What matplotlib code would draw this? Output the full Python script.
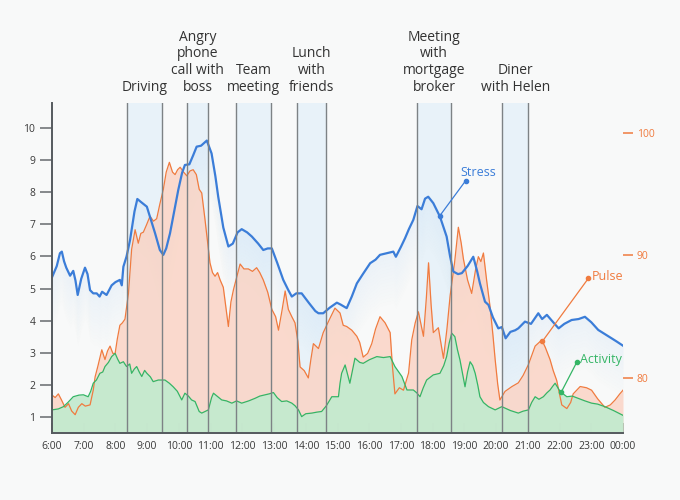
import numpy as np
import matplotlib
matplotlib.use("Agg")
import matplotlib.pyplot as plt

plt.rcParams['font.family'] = ['Open Sans', 'DejaVu Sans']

# ---------------- data ----------------
hour_ticks = list(range(6, 25))
hour_labels = ["6:00", "7:00", "8:00", "9:00", "10:00", "11:00", "12:00", "13:00", "14:00",
               "15:00", "16:00", "17:00", "18:00", "19:00", "20:00", "21:00", "22:00",
               "23:00", "00:00"]
stress_ticks = [1, 2, 3, 4, 5, 6, 7, 8, 9, 10]
pulse_ticks = [80, 90, 100]

band_labels = ["Driving", "Angry\nphone\ncall with\nboss", "Team\nmeeting", "Lunch\nwith\nfriends",
               "Meeting\nwith\nmortgage\nbroker", "Diner\nwith Helen"]
band_start = [8.37, 10.26, 11.80, 13.72, 17.51, 20.19]
band_end = [9.47, 10.92, 12.90, 14.64, 18.58, 21.01]

stress_t = [6.00, 6.15, 6.25, 6.31, 6.38, 6.45, 6.57, 6.67, 6.74, 6.81, 6.92, 7.04, 7.12, 7.20,
            7.30, 7.41, 7.50, 7.58, 7.72, 7.88, 8.00, 8.14, 8.20, 8.25, 8.35, 8.46, 8.60, 8.69,
            8.80, 8.99, 9.10, 9.25, 9.40, 9.51, 9.60, 9.72, 9.85, 9.98, 10.10, 10.19, 10.33,
            10.45, 10.56, 10.70, 10.88, 11.03, 11.15, 11.24, 11.40, 11.56, 11.70, 11.85, 11.98,
            12.15, 12.30, 12.50, 12.66, 12.80, 12.93, 13.10, 13.29, 13.45, 13.56, 13.70, 13.87,
            14.10, 14.30, 14.40, 14.55, 14.75, 14.98, 15.10, 15.29, 15.45, 15.61, 15.80, 16.03,
            16.20, 16.34, 16.55, 16.76, 16.84, 17.00, 17.13, 17.25, 17.39, 17.52, 17.65, 17.76,
            17.86, 17.95, 18.02, 18.23, 18.44, 18.55, 18.65, 18.80, 18.92, 19.10, 19.28, 19.40,
            19.49, 19.65, 19.76, 19.90, 20.07, 20.18, 20.30, 20.45, 20.60, 20.70, 20.91, 21.10,
            21.33, 21.45, 21.60, 21.80, 21.97, 22.15, 22.38, 22.60, 22.80, 23.00, 23.22, 23.40,
            23.64, 23.80, 24.00]
stress_v = [5.35, 5.70, 6.10, 6.15, 5.85, 5.65, 5.40, 5.55, 5.25, 4.80, 5.30, 5.65, 5.45, 4.95,
            4.85, 4.85, 4.75, 4.90, 4.80, 5.10, 5.20, 5.27, 5.10, 5.68, 6.00, 6.51, 7.40, 7.79,
            7.70, 7.55, 7.20, 6.72, 6.20, 6.05, 6.25, 6.72, 7.40, 8.07, 8.60, 8.85, 8.87,
            9.15, 9.42, 9.45, 9.61, 9.21, 8.50, 7.86, 6.90, 6.31, 6.40, 6.75, 6.85,
            6.75, 6.62, 6.40, 6.20, 6.25, 6.25, 5.80, 5.27, 4.95, 4.75, 4.85, 4.85,
            4.55, 4.30, 4.23, 4.23, 4.40, 4.56, 4.50, 4.39, 4.75, 5.16, 5.45, 5.79,
            5.90, 6.05, 6.10, 6.15, 5.99, 6.30, 6.57, 6.85, 7.14, 7.57, 7.47, 7.80,
            7.86, 7.75, 7.66, 7.24, 6.62, 6.00, 5.53, 5.45, 5.48, 5.70, 5.99, 5.55,
            5.16, 4.59, 4.49, 4.10, 3.76, 3.80, 3.45, 3.65, 3.70, 3.76, 3.97, 3.90,
            4.23, 4.05, 4.18, 3.95, 3.76, 3.90, 4.02, 4.05, 4.12, 3.95, 3.71, 3.60,
            3.45, 3.35, 3.22]

pulse_t = [6.00, 6.10, 6.20, 6.30, 6.41, 6.52, 6.62, 6.73, 6.83, 6.94, 7.05, 7.20, 7.30, 7.36,
           7.45, 7.57, 7.67, 7.75, 7.83, 7.92, 7.99, 8.06, 8.14, 8.22, 8.30, 8.41, 8.51, 8.62,
           8.72, 8.80, 8.88, 8.98, 9.09, 9.20, 9.30, 9.40, 9.51, 9.60, 9.70, 9.80, 9.88, 9.96,
           10.04, 10.15, 10.25, 10.35, 10.45, 10.55, 10.64, 10.72, 10.82, 10.98, 11.06, 11.14,
           11.22, 11.30, 11.40, 11.45, 11.56, 11.64, 11.72, 11.82, 11.93, 12.05, 12.19, 12.32,
           12.45, 12.55, 12.66, 12.80, 12.93, 13.05, 13.14, 13.25, 13.35, 13.45, 13.56, 13.66,
           13.75, 13.82, 13.95, 14.08, 14.16, 14.24, 14.40, 14.55, 14.75, 14.92, 15.08, 15.18,
           15.29, 15.45, 15.61, 15.70, 15.81, 15.95, 16.08, 16.20, 16.34, 16.50, 16.66, 16.73,
           16.81, 16.95, 17.08, 17.24, 17.34, 17.45, 17.55, 17.71, 17.80, 17.87, 17.95, 18.02,
           18.18, 18.34, 18.45, 18.55, 18.69, 18.81, 18.90, 18.97, 19.10, 19.23, 19.35, 19.44,
           19.52, 19.60, 19.70, 19.81, 19.90, 19.97, 20.05, 20.12, 20.28, 20.50, 20.70, 20.85,
           21.02, 21.23, 21.44, 21.55, 21.70, 21.80, 21.91, 22.07, 22.23, 22.35, 22.43, 22.65,
           22.85, 23.01, 23.20, 23.43, 23.60, 23.75, 23.90, 24.00]
pulse_v = [78.6, 78.4, 78.7, 78.2, 77.6, 77.9, 77.3, 77.0, 77.6, 77.9, 77.7, 77.8, 79.0, 80.1,
           81.0, 82.3, 81.5, 82.2, 82.6, 82.0, 82.0, 83.2, 84.3, 84.5, 84.8, 86.9, 90.5, 92.1,
           91.0, 91.8, 91.9, 92.5, 93.2, 92.8, 93.0, 94.2, 95.4, 96.8, 97.6, 96.8, 96.6, 97.0,
           97.2, 96.8, 96.5, 96.9, 97.0, 96.6, 95.4, 95.1, 93.0, 89.4, 88.6, 88.3,
           88.6, 88.0, 87.4, 86.4, 84.2, 86.2, 87.2, 88.2, 89.3, 88.9, 88.9, 88.7,
           89.0, 88.6, 88.0, 87.0, 85.6, 85.0, 83.9, 85.5, 87.1, 85.6, 85.0, 84.5,
           83.0, 80.9, 80.6, 80.0, 81.5, 82.8, 82.4, 83.7, 84.8, 85.7, 85.3, 84.3,
           84.2, 83.9, 83.4, 82.9, 81.7, 82.0, 82.8, 84.0, 85.0, 84.5, 83.7, 81.0,
           78.7, 79.2, 79.0, 80.4, 83.1, 84.5, 85.4, 83.4, 86.5, 89.4, 86.0, 83.7,
           84.1, 81.6, 84.0, 86.7, 89.4, 92.3, 91.0, 89.7, 88.0, 86.9, 88.8, 89.9,
           89.5, 90.2, 88.0, 85.8, 83.5, 81.5, 79.5, 78.2, 78.9, 79.3, 79.6, 80.2,
           81.1, 82.6, 83.1, 82.5, 81.5, 80.6, 79.8, 77.8, 77.5, 78.0, 78.7, 79.3,
           79.2, 79.0, 78.3, 77.6, 77.8, 78.2, 78.7, 79.0]

activity_t = [6.00, 6.20, 6.36, 6.50, 6.67, 6.85, 6.99, 7.14, 7.22, 7.30, 7.40, 7.51, 7.60, 7.67,
              7.78, 7.88, 7.99, 8.07, 8.14, 8.25, 8.35, 8.45, 8.51, 8.60, 8.67, 8.75, 8.83, 8.92,
              8.99, 9.10, 9.19, 9.35, 9.56, 9.70, 9.82, 9.95, 10.09, 10.19, 10.30, 10.40, 10.51,
              10.64, 10.72, 10.85, 10.93, 11.03, 11.09, 11.20, 11.35, 11.50, 11.67, 11.82, 11.98,
              12.20, 12.40, 12.55, 12.72, 12.85, 12.98, 13.10, 13.24, 13.40, 13.56, 13.66, 13.77,
              13.87, 14.00, 14.19, 14.35, 14.50, 14.65, 14.82, 15.03, 15.08, 15.13, 15.24, 15.39,
              15.55, 15.70, 15.81, 16.00, 16.24, 16.45, 16.66, 16.81, 17.03, 17.19, 17.39, 17.50,
              17.60, 17.70, 17.81, 18.02, 18.23, 18.35, 18.44, 18.52, 18.60, 18.70, 18.78, 18.86,
              18.95, 19.02, 19.10, 19.18, 19.26, 19.34, 19.42, 19.49, 19.60, 19.76, 19.97, 20.18,
              20.45, 20.70, 20.85, 21.02, 21.12, 21.23, 21.35, 21.49, 21.60, 21.70, 21.78, 21.86,
              21.95, 22.02, 22.23, 22.40, 22.59, 22.80, 23.01, 23.20, 23.43, 23.70, 23.98, 24.00]
activity_v = [1.22, 1.25, 1.32, 1.45, 1.63, 1.68, 1.69, 1.63, 1.80, 2.05, 2.15, 2.36, 2.40, 2.57,
              2.70, 2.88, 2.98, 2.80, 2.67, 2.72, 2.57, 2.65, 2.36, 2.50, 2.57, 2.40, 2.26, 2.45,
              2.36, 2.25, 2.10, 2.15, 2.15, 2.05, 1.94, 1.80, 1.53, 1.74, 1.65, 1.53, 1.48,
              1.17, 1.12, 1.18, 1.22, 1.60, 1.74, 1.65, 1.53, 1.50, 1.43, 1.50, 1.43,
              1.50, 1.58, 1.65, 1.69, 1.72, 1.76, 1.60, 1.48, 1.50, 1.43, 1.35, 1.22,
              1.01, 1.10, 1.12, 1.15, 1.17, 1.35, 1.63, 1.63, 2.05, 2.36, 2.62, 2.05,
              2.83, 2.70, 2.67, 2.78, 2.88, 2.85, 2.88, 2.57, 2.26, 1.84, 1.84, 1.75,
              1.63, 1.90, 2.15, 2.31, 2.36, 2.60, 2.88, 3.30, 3.61, 3.50, 3.10, 2.78,
              2.30, 1.94, 2.40, 2.72, 2.60, 2.36, 2.00, 1.63, 1.45, 1.32, 1.22, 1.32,
              1.20, 1.12, 1.18, 1.22, 1.45, 1.63, 1.55, 1.63, 1.75, 1.84, 1.95, 2.05,
              1.90, 1.79, 1.63, 1.65, 1.58, 1.50, 1.43, 1.40, 1.32, 1.20, 1.06, 1.05]

# ---------------- style ----------------
BG = "#f8f9f9"
BLUE = "#3b7dd8"
ORANGE = "#f07b3f"
GREEN = "#34b565"
TXT = "#333333"

# mapping between left (stress) scale and right (pulse) scale
P0, S0, K = 80.0, 2.215, 0.3816


def pulse_to_stress(p):
    return S0 + (np.asarray(p) - P0) * K


def stress_to_pulse(s):
    return P0 + (np.asarray(s) - S0) / K


fig = plt.figure(figsize=(6.8, 5.0), dpi=100, facecolor=BG)
ax = fig.add_axes([52 / 680, 1 - 433 / 500, (623 - 52) / 680, (433 - 103) / 500])
ax.set_facecolor(BG)
ax.set_xlim(6, 24)
ax.set_ylim(0.5, 10.78)

# event bands
for s, e, lab in zip(band_start, band_end, band_labels):
    ax.axvspan(s, e, color="#deeef9", alpha=0.6, lw=0, zorder=0)
    ax.axvline(s, color="#7d8285", lw=1.0, zorder=7)
    ax.axvline(e, color="#7d8285", lw=1.0, zorder=7)
    ax.annotate(lab, xy=((s + e) / 2, 1), xycoords=("data", "axes fraction"),
                xytext=(0, 6), textcoords="offset points", ha="center", va="bottom",
                fontsize=10, color=TXT, linespacing=1.15, annotation_clip=False)

st = np.array(stress_t)
sv = np.array(stress_v)
pt = np.array(pulse_t)
pv = pulse_to_stress(pulse_v)
at = np.array(activity_t)
av = np.array(activity_v)

# stress gradient fill
N = 16
depth = 1.6
for k in range(N):
    a = 0.20 * (1 - k / N)
    ax.fill_between(st, sv - depth * (k + 1) / N, sv - depth * k / N,
                    color="#bcd8f4", alpha=a, lw=0, zorder=1)

# pulse
ax.fill_between(pt, 0.5, pv, color="#fbd2c2", alpha=0.8, lw=0, zorder=2)
ax.plot(pt, pv, color=ORANGE, lw=0.9, zorder=4)

# activity
ax.fill_between(at, 0.5, av, color="#c4eacf", alpha=0.95, lw=0, zorder=3)
ax.plot(at, av, color=GREEN, lw=0.9, zorder=5)

# stress line
ax.plot(st, sv, color=BLUE, lw=1.6, zorder=6)


def leader(px, py, qx, qy, color):
    ax.plot([px, qx], [py, qy], color=color, lw=0.9, zorder=8)
    ax.plot([px, qx], [py, qy], "o", color=color, ms=3, zorder=8)


h = 18.22
leader(h, np.interp(h, st, sv), 19.04, 8.36, BLUE)
ax.text(18.86, 8.63, "Stress", color=BLUE, fontsize=9, ha="left", va="center", zorder=9)
h = 21.46
leader(h, np.interp(h, pt, pv), 22.91, 5.32, ORANGE)
ax.text(23.03, 5.36, "Pulse", color=ORANGE, fontsize=9, ha="left", va="center", zorder=9)
h = 22.05
leader(h, np.interp(h, at, av), 22.54, 2.70, GREEN)
ax.text(22.66, 2.80, "Activity", color=GREEN, fontsize=9, ha="left", va="center", zorder=9)

# axes styling
for side in ["top", "right"]:
    ax.spines[side].set_visible(False)
for side in ["left", "bottom"]:
    ax.spines[side].set_color("#555a5e")
    ax.spines[side].set_linewidth(1.4)
    ax.spines[side].set_zorder(10)

ax.set_xticks(hour_ticks)
ax.set_xticklabels(hour_labels)
ax.tick_params(axis="x", direction="in", length=7, width=1.1, color="#555a5e",
               labelsize=7.5, labelcolor="#3a3a3a", pad=6)
ax.set_yticks(stress_ticks)
ax.tick_params(axis="y", direction="out", length=9, width=1.1, color="#666a6e",
               labelsize=7.5, labelcolor="#3a3a3a", pad=3)

sec = ax.secondary_yaxis("right", functions=(stress_to_pulse, pulse_to_stress))
sec.set_yticks(pulse_ticks)
sec.spines["right"].set_visible(False)
sec.tick_params(axis="y", direction="out", length=7, width=1.1, color=ORANGE,
                labelsize=7.5, labelcolor=ORANGE, pad=3)

fig.savefig("out.png", dpi=100, facecolor=BG)
